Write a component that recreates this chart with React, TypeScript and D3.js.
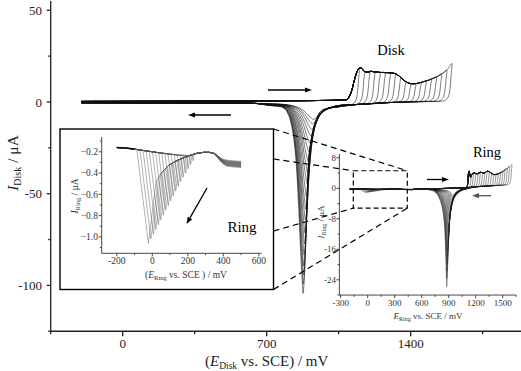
import React from 'react';
import * as d3 from 'd3';

type Pt = [number, number];

const W = 521;
const H = 371;
const FONT = '"Liberation Serif", "Times New Roman", serif';

// ── upper switching potential of each of the 19 cycles (mV) ──
const cycleVertex = [1150, 1175, 1200, 1225, 1250, 1275, 1300, 1325, 1350, 1375, 1400, 1425, 1450, 1475, 1500, 1525, 1550, 1575, 1600];

// ── Disk: reduction peak on the reverse scan, one value per cycle ──
const diskPeakDepth = [8, 10.5, 13.5, 17, 21, 26, 31, 37, 43, 50, 57, 63, 70, 76, 82, 88, 93, 98, 103];
const diskPeakE = [926, 922, 918, 914, 910, 906, 902, 899, 896, 893, 890, 888, 886, 884, 882, 880, 879, 878, 877];
const diskPeakSpread = [1.7, 1.6, 1.5, 1.45, 1.4, 1.32, 1.26, 1.2, 1.15, 1.11, 1.08, 1.06, 1.04, 1.03, 1.02, 1.01, 1, 1, 1];

// disk forward scan below the oxide region (E mV, I µA)
const diskFwd: Pt[] = [[-200, 0.3], [0, 0.35], [300, 0.45], [600, 0.55], [800, 0.65], [950, 0.8], [1050, 1.0], [1090, 1.3]];
// disk anodic envelope
const diskAnodic: Pt[] = [
  [1095, 1.8], [1110, 5], [1122, 10], [1133, 14.5], [1143, 17.5], [1152, 18.7], [1162, 18.3], [1173, 16.8],
  [1188, 16.2], [1205, 16.7], [1220, 16.5], [1250, 16.1], [1290, 16], [1320, 15.6], [1340, 14.5], [1360, 12.5],
  [1380, 10.8], [1400, 10], [1425, 10], [1455, 10.8], [1490, 12], [1525, 13.6], [1555, 15.6], [1580, 17.8], [1600, 21],
];
// disk reverse-scan background
const diskRevBase: Pt[] = [[-200, -0.4], [300, -0.55], [650, -0.8], [800, -1.1], [950, -1.6], [1050, -2.0], [1150, -1.3], [1300, -0.3], [1450, 0.2], [1600, 0.6]];
// reduction peak profile of the deepest cycle (mV from peak, fraction of depth)
const diskPeakShape: Pt[] = [
  [-177, 0.008], [-137, 0.012], [-107, 0.015], [-82, 0.034], [-67, 0.068], [-52, 0.136], [-37, 0.265], [-22, 0.53],
  [-12, 0.78], [-5, 0.92], [0, 1], [6, 0.92], [13, 0.725], [20, 0.461], [30, 0.265], [45, 0.176], [62, 0.098],
  [80, 0.054], [100, 0.03], [125, 0.015],
];
// current decay just after reversal (mV back from vertex, fraction left)
const reversalDrop: Pt[] = [[3, 0.72], [7, 0.42], [12, 0.2], [20, 0.08], [32, 0.02], [45, 0]];

// ── Ring, full range ──
const ringPeakDepth = [1.8, 2.3, 2.9, 3.6, 4.4, 5.3, 6.3, 7.4, 8.6, 10, 11.5, 13, 14.6, 16.2, 17.9, 19.7, 21.6, 23.5, 25.6];
const ringPeakE = [945, 940, 935, 930, 925, 920, 915, 910, 905, 900, 896, 892, 889, 886, 884, 882, 880, 879, 878];
const ringPeakSpread = [1.6, 1.55, 1.5, 1.45, 1.4, 1.35, 1.3, 1.25, 1.2, 1.16, 1.13, 1.1, 1.08, 1.06, 1.04, 1.03, 1.02, 1.01, 1];
const ringFwd: Pt[] = [[500, -0.3], [600, -0.2], [750, -0.1], [900, 0], [1050, 0.1], [1100, 0.25]];
const ringAnodic: Pt[] = [
  [1105, 0.4], [1114, 2], [1121, 4.1], [1128, 4.5], [1136, 3.4], [1145, 2.9], [1158, 3.7], [1180, 4.0], [1215, 3.8],
  [1255, 4.2], [1295, 4.0], [1330, 4.5], [1360, 4.2], [1400, 3.6], [1450, 3.8], [1500, 4.4], [1550, 5.2], [1600, 6.2],
];
const ringRevBase: Pt[] = [[650, -0.25], [800, -0.2], [1000, -0.1], [1100, 0.1], [1200, 0.4], [1400, 0.7], [1600, 1.0]];
const ringPeakShape: Pt[] = [
  [-148, 0.02], [-118, 0.04], [-88, 0.078], [-58, 0.156], [-36, 0.27], [-23, 0.39], [-13, 0.59], [-5, 0.86], [0, 1],
  [4, 0.94], [12, 0.74], [22, 0.51], [34, 0.31], [52, 0.195], [82, 0.098], [122, 0.047], [172, 0.02],
];

// ── Ring, low-potential detail (inset) ──
const lowTop: Pt[] = [[-200, -0.16], [-150, -0.165], [-100, -0.175], [-50, -0.188], [0, -0.2], [50, -0.212], [100, -0.222], [150, -0.232], [200, -0.236], [250, -0.23]];
const lowReturn: Pt[] = [
  [-10, -0.6], [20, -0.49], [50, -0.4], [90, -0.33], [130, -0.29], [170, -0.26], [210, -0.235], [250, -0.215],
  [290, -0.205], [320, -0.205], [345, -0.214], [362, -0.232], [380, -0.262], [398, -0.285], [420, -0.298], [460, -0.305], [500, -0.31],
];
const lowTipE = [-22, -8, 6, 20, 34, 48, 62, 76, 90, 104, 118, 132, 146, 160, 174, 188, 202, 216, 230];
const lowTipI = [-1.06, -1.02, -0.975, -0.93, -0.885, -0.84, -0.795, -0.75, -0.705, -0.66, -0.615, -0.57, -0.525, -0.48, -0.44, -0.4, -0.36, -0.32, -0.285];
const lowEndShift = [0.02, 0.015, 0.012, 0.008, 0.005, 0.002, 0, -0.003, -0.006, -0.009, -0.012, -0.015, -0.018, -0.021, -0.024, -0.027, -0.03, -0.034, -0.038];
const lowSideSlope = 75; // mV per µA on both sides of the V

// ── helpers ──
const interp = (tbl: Pt[], x: number): number => {
  if (x <= tbl[0][0]) return tbl[0][1];
  const n = tbl.length;
  if (x >= tbl[n - 1][0]) return tbl[n - 1][1];
  let i = 1;
  while (tbl[i][0] < x) i++;
  const [x0, y0] = tbl[i - 1];
  const [x1, y1] = tbl[i];
  return y0 + ((y1 - y0) * (x - x0)) / (x1 - x0);
};
const shapeAt = (tbl: Pt[], u: number) => (u < tbl[0][0] || u > tbl[tbl.length - 1][0] ? 0 : interp(tbl, u));

function lowCurve(k: number): Pt[] {
  const tE = lowTipE[k];
  const tI = lowTipI[k];
  const dL = lowSideSlope * (interp(lowTop, tE) - tI);
  const pts: Pt[] = [];
  lowTop.forEach((p) => { if (p[0] < tE - dL) pts.push(p); });
  pts.push([tE - dL, interp(lowTop, tE - dL)]);
  pts.push([tE, tI]);
  let e = tE;
  while (tI + (e - tE) / lowSideSlope < interp(lowReturn, e) && e < 500) e += 1;
  pts.push([e, interp(lowReturn, e)]);
  lowReturn.forEach((p) => {
    if (p[0] > e) {
      const w = Math.max(0, Math.min(1, (p[0] - 340) / 80));
      pts.push([p[0], p[1] + lowEndShift[k] * w]);
    }
  });
  return pts;
}

function sweep(
  k: number, prefix: Pt[], fwd: Pt[], anodic: Pt[], revBase: Pt[], shape: Pt[],
  peakE: number[], depth: number[], spread: number[],
): Pt[] {
  const ev = cycleVertex[k];
  const pts: Pt[] = [...prefix];
  fwd.forEach((p) => { if (p[0] < anodic[0][0]) pts.push(p); });
  anodic.forEach((p) => { if (p[0] < ev) pts.push(p); });
  const top = interp(anodic, ev);
  pts.push([ev, top]);
  reversalDrop.forEach(([de, fr]) => {
    const e = ev - de;
    const b = interp(revBase, e);
    pts.push([e, b + (top - b) * fr]);
  });
  const start = ev - reversalDrop[reversalDrop.length - 1][0];
  const es = new Set<number>();
  revBase.forEach((p) => { if (p[0] < start) es.add(p[0]); });
  shape.forEach((p) => {
    const e = peakE[k] + p[0] * spread[k];
    if (e < start && e > revBase[0][0]) es.add(e);
  });
  Array.from(es).sort((a, b) => b - a).forEach((e) => {
    pts.push([e, interp(revBase, e) - depth[k] * shapeAt(shape, (e - peakE[k]) / spread[k])]);
  });
  return pts;
}

// ── scales ──
const mx = d3.scaleLinear().domain([-350, 1950]).range([50.7, 523.8]);
const my = d3.scaleLinear().domain([-125, 55]).range([331.25, 1.1]);
const rx = d3.scaleLinear().domain([-315, 1650]).range([339.35, 516.2]);
const ry = d3.scaleLinear().domain([-28, 9]).range([295.05, 154.0]);
const ix = d3.scaleLinear().domain([-285, 615]).range([101.7, 261.5]);
const iy = d3.scaleLinear().domain([-1.155, -0.06]).range([253.3, 136.9]);

const insetBox = { x0: 60, y0: 129, x1: 273.5, y1: 289.5 };
const zoomRect = { e0: -160, e1: 440, i0: -5.2, i1: 4.6 };

const Arrow = ({ x1, y1, x2, y2, color = '#000' }: { x1: number; y1: number; x2: number; y2: number; color?: string }) => {
  const a = Math.atan2(y2 - y1, x2 - x1);
  const L = 7, Wd = 2.6;
  const bx = x2 - L * Math.cos(a), by = y2 - L * Math.sin(a);
  const p1 = [bx + Wd * Math.sin(a), by - Wd * Math.cos(a)];
  const p2 = [bx - Wd * Math.sin(a), by + Wd * Math.cos(a)];
  return (
    <g>
      <line x1={x1} y1={y1} x2={bx} y2={by} stroke={color} strokeWidth={1.3} />
      <polygon points={`${x2},${y2} ${p1[0]},${p1[1]} ${p2[0]},${p2[1]}`} fill={color} />
    </g>
  );
};

export default function App() {
  const idx = d3.range(cycleVertex.length);
  const lows = idx.map(lowCurve);
  const disk = idx.map((k) => sweep(k, [], diskFwd, diskAnodic, diskRevBase, diskPeakShape, diskPeakE, diskPeakDepth, diskPeakSpread));
  const ring = idx.map((k) => sweep(k, lows[k], ringFwd, ringAnodic, ringRevBase, ringPeakShape, ringPeakE, ringPeakDepth, ringPeakSpread));

  const smooth = d3.curveCatmullRom.alpha(0.5);
  const mLine = d3.line<Pt>().x((d) => mx(d[0])).y((d) => my(d[1])).curve(smooth);
  const rLine = d3.line<Pt>().x((d) => rx(d[0])).y((d) => ry(d[1])).curve(smooth);
  const iLine = d3.line<Pt>().x((d) => ix(d[0])).y((d) => iy(d[1]));

  // main axis ticks
  const mxMajor = [0, 700, 1400];
  const mxMinor = [-350, 350, 1050, 1750];
  const myMajor = [-100, -50, 0, 50];
  const myMinor = [-125, -75, -25, 25];
  const rxMajor = [-300, 0, 300, 600, 900, 1200, 1500];
  const rxMinor = [-150, 150, 450, 750, 1050, 1350, 1650];
  const ryMajor = [-24, -16, -8, 0, 8];
  const ryMinor = [-28, -20, -12, -4, 4];
  const ixMajor = [-200, 0, 200, 400, 600];
  const ixMinor = [-100, 100, 300, 500];
  const iyMajor = [-1.0, -0.8, -0.6, -0.4, -0.2];
  const iyMinor = [-1.1, -0.9, -0.7, -0.5, -0.3, -0.1];
  const f1 = d3.format('.1f');

  const zr = { x0: rx(zoomRect.e0), x1: rx(zoomRect.e1), y0: ry(zoomRect.i1), y1: ry(zoomRect.i0) };
  const connectors = [
    [insetBox.x1, insetBox.y0, zr.x1, zr.y0],
    [insetBox.x1, 159, zr.x0, zr.y0],
    [insetBox.x1, 231, zr.x0, zr.y1],
    [insetBox.x1, insetBox.y1, zr.x1, zr.y1],
  ];

  return (
    <svg width={W} height={H} style={{ position: 'absolute', left: 0, top: 0, background: '#fff' }} fontFamily={FONT}>
      <rect width={W} height={H} fill="#fff" />

      {/* ── main disk panel ── */}
      <g fill="none" stroke="#111" strokeWidth={0.55}>
        {disk.map((p, k) => <path key={k} d={mLine(p) ?? ''} />)}
      </g>
      <g stroke="#222" strokeWidth={1.3}>
        <line x1={mx.range()[0]} x2={mx.range()[0]} y1={my.range()[1]} y2={my.range()[0]} />
        <line x1={mx.range()[0]} x2={W} y1={my.range()[0]} y2={my.range()[0]} />
        {myMajor.map((v) => <line key={v} x1={mx.range()[0] - 4} x2={mx.range()[0]} y1={my(v)} y2={my(v)} />)}
        {myMinor.map((v) => <line key={v} x1={mx.range()[0] - 2.5} x2={mx.range()[0]} y1={my(v)} y2={my(v)} />)}
        {mxMajor.map((v) => <line key={v} x1={mx(v)} x2={mx(v)} y1={my.range()[0]} y2={my.range()[0] + 5} />)}
        {mxMinor.map((v) => <line key={v} x1={mx(v)} x2={mx(v)} y1={my.range()[0]} y2={my.range()[0] + 3} />)}
      </g>
      <g fontSize={13} fill="#222">
        {myMajor.map((v) => <text key={v} x={42} y={my(v)} dy="0.35em" textAnchor="end">{v}</text>)}
        {mxMajor.map((v) => <text key={v} x={mx(v)} y={348} textAnchor="middle">{v}</text>)}
      </g>
      <text x={mx(700)} y={366} fontSize={15} textAnchor="middle" fill="#222">
        (<tspan fontStyle="italic">E</tspan><tspan fontSize={9.5} dy={3}>Disk</tspan><tspan dy={-3}> vs. SCE) / mV</tspan>
      </text>
      <text transform="translate(18,163) rotate(-90)" fontSize={15.5} textAnchor="middle" fill="#222">
        <tspan fontStyle="italic">I</tspan><tspan fontSize={10} dy={3}>Disk</tspan><tspan dy={-3}> / μA</tspan>
      </text>
      <text x={391} y={55} fontSize={14.5} textAnchor="middle">Disk</text>
      <Arrow x1={268} y1={90} x2={312} y2={90} />
      <Arrow x1={231} y1={115} x2={188} y2={115} />

      {/* ── ring panel, full range ── */}
      <g fill="none" stroke="#1a1a1a" strokeWidth={0.45}>
        {ring.map((p, k) => <path key={k} d={rLine(p) ?? ''} />)}
      </g>
      <g stroke="#333" strokeWidth={0.9}>
        <line x1={rx.range()[0]} x2={rx.range()[0]} y1={ry.range()[1]} y2={ry.range()[0]} />
        <line x1={rx.range()[0]} x2={rx.range()[1]} y1={ry.range()[0]} y2={ry.range()[0]} />
        {ryMajor.map((v) => <line key={v} x1={rx.range()[0] - 3} x2={rx.range()[0]} y1={ry(v)} y2={ry(v)} />)}
        {ryMinor.map((v) => <line key={v} x1={rx.range()[0] - 1.8} x2={rx.range()[0]} y1={ry(v)} y2={ry(v)} />)}
        {rxMajor.map((v) => <line key={v} x1={rx(v)} x2={rx(v)} y1={ry.range()[0]} y2={ry.range()[0] + 3} />)}
        {rxMinor.map((v) => <line key={v} x1={rx(v)} x2={rx(v)} y1={ry.range()[0]} y2={ry.range()[0] + 1.8} />)}
      </g>
      <g fontSize={9} fill="#333">
        {ryMajor.map((v) => <text key={v} x={336} y={ry(v)} dy="0.35em" textAnchor="end">{v}</text>)}
        {rxMajor.map((v) => <text key={v} x={rx(v)} y={306} textAnchor="middle">{v}</text>)}
      </g>
      <text x={428} y={319} fontSize={9} textAnchor="middle" fill="#333">
        <tspan fontStyle="italic">E</tspan><tspan fontSize={6} dy={2}>Ring</tspan><tspan dy={-2}> vs. SCE / mV</tspan>
      </text>
      <text transform="translate(324,222) rotate(-90)" fontSize={9} textAnchor="middle" fill="#333">
        <tspan fontStyle="italic">I</tspan><tspan fontSize={6} dy={2}>Ring</tspan><tspan dy={-2}> / μA</tspan>
      </text>
      <text x={487} y={157} fontSize={14.5} textAnchor="middle">Ring</text>
      <Arrow x1={427} y1={179.5} x2={449} y2={179.5} />
      <Arrow x1={491} y1={195.7} x2={472} y2={195.7} color="#555" />
      <rect x={zr.x0} y={zr.y0} width={zr.x1 - zr.x0} height={zr.y1 - zr.y0} fill="none" stroke="#000" strokeWidth={1.2} strokeDasharray="5,3" />

      {/* ── inset: ring detail ── */}
      <rect x={insetBox.x0} y={insetBox.y0} width={insetBox.x1 - insetBox.x0} height={insetBox.y1 - insetBox.y0} fill="#fff" stroke="#000" strokeWidth={1.4} />
      <g fill="none" stroke="#555" strokeWidth={0.45}>
        {lows.map((p, k) => <path key={k} d={iLine(p) ?? ''} />)}
      </g>
      <g fill="none" stroke="#111" strokeWidth={1.6}>
        <path d={iLine(lowTop.filter((p) => p[0] <= -80)) ?? ''} />
      </g>
      <g stroke="#333" strokeWidth={0.9}>
        <line x1={ix.range()[0]} x2={ix.range()[0]} y1={iy.range()[1]} y2={iy.range()[0]} />
        <line x1={ix.range()[0]} x2={ix.range()[1]} y1={iy.range()[0]} y2={iy.range()[0]} />
        {iyMajor.map((v) => <line key={v} x1={ix.range()[0] - 3} x2={ix.range()[0]} y1={iy(v)} y2={iy(v)} />)}
        {iyMinor.map((v) => <line key={v} x1={ix.range()[0] - 1.8} x2={ix.range()[0]} y1={iy(v)} y2={iy(v)} />)}
        {ixMajor.map((v) => <line key={v} x1={ix(v)} x2={ix(v)} y1={iy.range()[0]} y2={iy.range()[0] + 3} />)}
        {ixMinor.map((v) => <line key={v} x1={ix(v)} x2={ix(v)} y1={iy.range()[0]} y2={iy.range()[0] + 1.8} />)}
      </g>
      <g fontSize={9.5} fill="#333">
        {iyMajor.map((v) => <text key={v} x={98} y={iy(v)} dy="0.35em" textAnchor="end">{f1(v)}</text>)}
        {ixMajor.map((v) => <text key={v} x={ix(v)} y={264} textAnchor="middle">{v}</text>)}
      </g>
      <text x={186} y={278} fontSize={9.5} textAnchor="middle" fill="#333">
        (<tspan fontStyle="italic">E</tspan><tspan fontSize={6.5} dy={2}>Ring</tspan><tspan dy={-2}> vs. SCE ) / mV</tspan>
      </text>
      <text transform="translate(78,196) rotate(-90)" fontSize={9.5} textAnchor="middle" fill="#333">
        <tspan fontStyle="italic">I</tspan><tspan fontSize={6.5} dy={2}>Ring</tspan><tspan dy={-2}> / μA</tspan>
      </text>
      <text x={242} y={232} fontSize={15} textAnchor="middle">Ring</text>
      <Arrow x1={207} y1={188} x2={186.5} y2={224} />

      {/* dashed connectors */}
      <g stroke="#000" strokeWidth={1.2} strokeDasharray="6,4">
        {connectors.map((c, i) => <line key={i} x1={c[0]} y1={c[1]} x2={c[2]} y2={c[3]} />)}
      </g>
    </svg>
  );
}
